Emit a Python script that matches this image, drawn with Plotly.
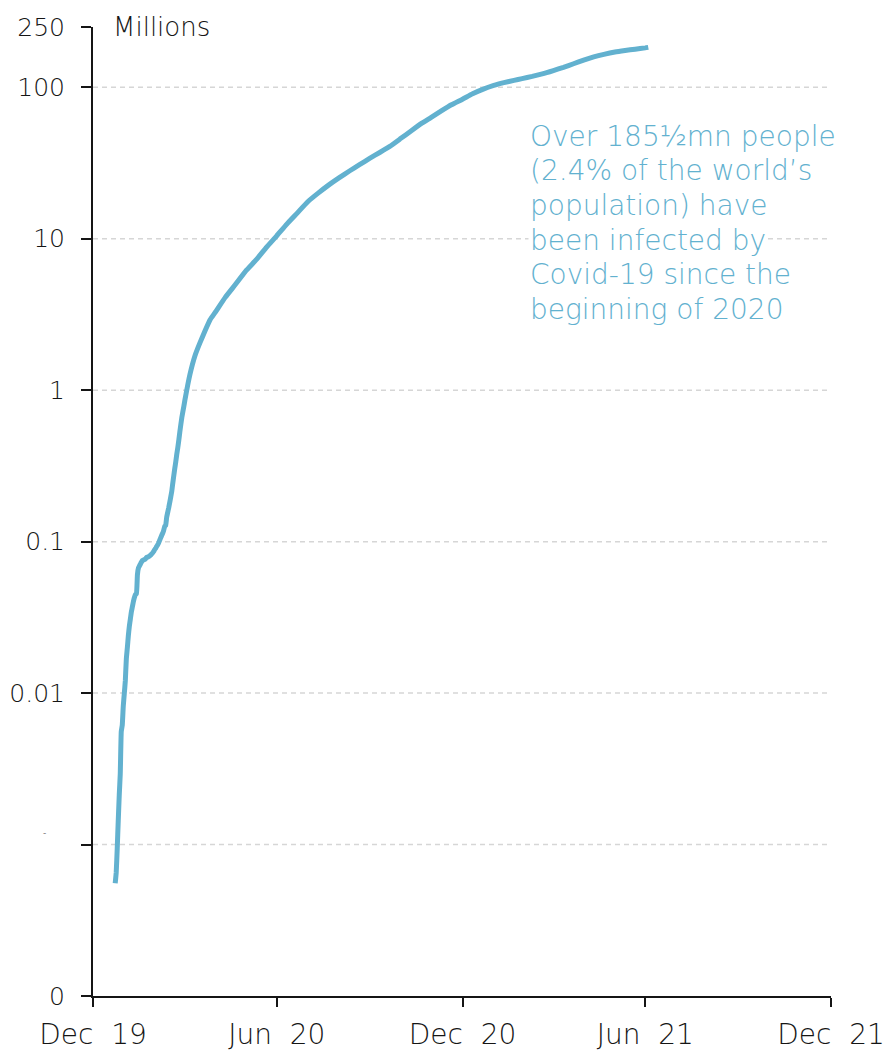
import plotly.graph_objects as go
import numpy as np

dates = [
    "2020-01-22","2020-01-23","2020-01-24","2020-01-25","2020-01-26","2020-01-27","2020-01-28",
    "2020-01-29","2020-01-30","2020-01-31","2020-02-01","2020-02-02","2020-02-03","2020-02-04",
    "2020-02-05","2020-02-06","2020-02-07","2020-02-08","2020-02-09","2020-02-10","2020-02-11",
    "2020-02-12","2020-02-13","2020-02-14","2020-02-15","2020-02-16","2020-02-17","2020-02-18",
    "2020-02-19","2020-02-20","2020-02-21","2020-02-22","2020-02-23","2020-02-24","2020-02-25",
    "2020-02-26","2020-02-27","2020-02-28","2020-02-29","2020-03-01","2020-03-02","2020-03-03",
    "2020-03-04","2020-03-05","2020-03-06","2020-03-07","2020-03-08","2020-03-09","2020-03-10",
    "2020-03-11","2020-03-12","2020-03-13","2020-03-14","2020-03-15","2020-03-16","2020-03-17",
    "2020-03-18","2020-03-19","2020-03-20","2020-03-21","2020-03-22","2020-03-23","2020-03-24",
    "2020-03-25","2020-03-26","2020-03-27","2020-03-28","2020-03-29","2020-03-30","2020-03-31",
    "2020-04-05","2020-04-10","2020-04-15","2020-04-20","2020-04-25","2020-04-30",
    "2020-05-10","2020-05-20","2020-05-31","2020-06-10","2020-06-20","2020-06-30",
    "2020-07-10","2020-07-20","2020-07-31","2020-08-10","2020-08-20","2020-08-31",
    "2020-09-10","2020-09-20","2020-09-30","2020-10-10","2020-10-20","2020-10-31",
    "2020-11-10","2020-11-20","2020-11-30","2020-12-10","2020-12-20","2020-12-31",
    "2021-01-10","2021-01-20","2021-01-31","2021-02-10","2021-02-20","2021-02-28",
    "2021-03-10","2021-03-20","2021-03-31","2021-04-10","2021-04-20","2021-04-30",
    "2021-05-10","2021-05-20","2021-05-31","2021-06-10","2021-06-20","2021-06-30","2021-07-03",
]

cases_millions = [
    0.000555,0.000654,0.000941,0.001434,0.002118,0.002927,0.005578,
    0.006166,0.008234,0.009927,0.012038,0.016787,0.019887,0.023898,
    0.027643,0.030802,0.034395,0.037129,0.040160,0.042769,0.044811,
    0.045228,0.060381,0.066913,0.069050,0.071235,0.073270,0.075152,
    0.075652,0.076212,0.076843,0.078599,0.078985,0.079570,0.080415,
    0.081397,0.082756,0.084124,0.086013,0.088371,0.090309,0.092844,
    0.095124,0.097886,0.101800,0.105836,0.109835,0.113582,0.118582,
    0.125865,0.128343,0.145193,0.156097,0.167449,0.181531,0.197146,
    0.214910,0.242708,0.272166,0.304524,0.337020,0.378287,0.418041,
    0.467653,0.529591,0.593291,0.660706,0.720117,0.782365,0.857487,
    1.27,1.69,2.06,2.47,2.92,3.26,
    4.1,4.98,6.2,7.3,8.8,10.45,
    12.5,14.7,17.6,20.0,22.5,25.3,
    28.0,30.8,33.9,37.1,40.7,46.0,
    51.5,57.6,63.3,69.8,76.6,83.4,
    90.6,96.9,102.8,107.2,111.0,114.0,
    117.9,122.6,129.0,135.5,143.0,151.0,
    158.5,165.0,171.0,175.0,178.5,182.0,183.5,
]

y_tick_vals = [0.0001, 0.001, 0.01, 0.1, 1, 10, 100, 250]
y_tick_text = ["0", "", "0.01", "0.1", "1", "10", "100", "250"]
grid_vals = [0.001, 0.01, 0.1, 1, 10, 100]

x_tick_vals = ["2019-12-31", "2020-06-30", "2020-12-31", "2021-06-30", "2021-12-31"]
x_tick_text = ["Dec\u00a0\u00a019", "Jun\u00a0\u00a020", "Dec\u00a0\u00a020",
               "Jun\u00a0\u00a021", "Dec\u00a0\u00a021"]

note_lines = [
    "Over 185½mn people",
    "(2.4% of the world’s",
    "population) have",
    "been infected by",
    "Covid-19 since the",
    "beginning of 2020",
]

LINE = "#62B1CF"
FONT = "'DejaVu Sans', sans-serif"
INK = "#151515"

PLOT_L, PLOT_R, PLOT_T, PLOT_B = 93, 831, 27, 996

fig = go.Figure()

for g in grid_vals:
    fig.add_shape(type="line", xref="paper", x0=0, x1=1, yref="y",
                  y0=g, y1=g,
                  line=dict(color="#d6d6d6", width=1.5, dash="5px,4px"), layer="below")

fig.add_trace(go.Scatter(
    x=dates, y=cases_millions, mode="lines",
    line=dict(color=LINE, width=5, shape="spline", smoothing=0.4),
    cliponaxis=False, hoverinfo="skip", showlegend=False,
))

# text block, one line per annotation to keep the tight line spacing
for i, line in enumerate(note_lines):
    yc = 136 + i * 34.7
    fig.add_annotation(text=line, xref="paper", yref="paper",
                       x=(528 - PLOT_L) / (PLOT_R - PLOT_L),
                       y=(PLOT_B - yc) / (PLOT_B - PLOT_T),
                       xanchor="left", yanchor="middle", align="left", showarrow=False,
                       bgcolor="white", borderpad=1,
                       font=dict(family=FONT, size=28, color=LINE, weight=300))

fig.add_annotation(text="Millions", xref="paper", yref="paper",
                   x=(111 - PLOT_L) / (PLOT_R - PLOT_L), y=(PLOT_B - 27) / (PLOT_B - PLOT_T),
                   xanchor="left", yanchor="middle", showarrow=False,
                   font=dict(family=FONT, size=26, color=INK, weight=300))

fig.add_annotation(text="-", xref="paper", yref="y",
                   x=(45 - PLOT_L) / (PLOT_R - PLOT_L), y=np.log10(0.0012),
                   xanchor="center", yanchor="middle", showarrow=False,
                   font=dict(family=FONT, size=9, color="#777777"))

fig.update_layout(
    width=886, height=1053,
    margin=dict(l=PLOT_L, r=886 - PLOT_R, t=PLOT_T, b=1053 - PLOT_B, autoexpand=False),
    paper_bgcolor="white", plot_bgcolor="white",
    font=dict(family=FONT, size=26, color=INK),
    xaxis=dict(
        type="date", range=["2019-12-31", "2021-12-31"],
        tickvals=x_tick_vals, ticktext=x_tick_text,
        showgrid=False, showline=True, linecolor=INK, linewidth=2,
        ticks="outside", ticklen=9, tickwidth=2, tickcolor=INK,
        ticklabelstandoff=3, automargin=False, ticklabeloverflow="allow",
        tickfont=dict(family=FONT, size=28, color=INK, weight=300),
        zeroline=False,
    ),
    yaxis=dict(
        type="log", range=[-4, np.log10(250)],
        tickvals=y_tick_vals, ticktext=y_tick_text,
        showgrid=False, showline=True, linecolor=INK, linewidth=2,
        ticks="outside", ticklen=10, tickwidth=2, tickcolor=INK,
        ticklabelstandoff=11, automargin=False, ticklabeloverflow="allow",
        tickfont=dict(family=FONT, size=25, color=INK, weight=300),
        zeroline=False,
    ),
)

fig.write_html("out.html")
